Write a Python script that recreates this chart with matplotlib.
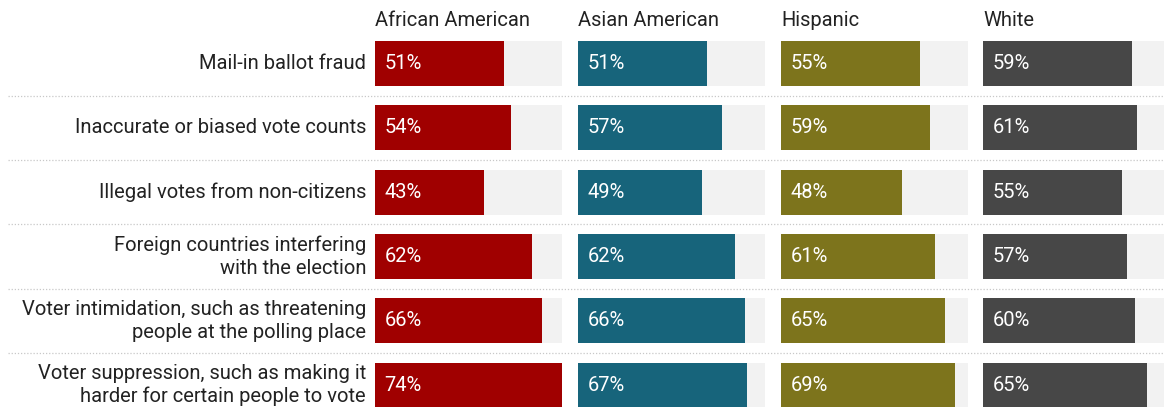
import matplotlib
matplotlib.use("Agg")
import matplotlib.pyplot as plt

plt.rcParams['font.family'] = ['Roboto', 'DejaVu Sans']

issues = [
    "Mail-in ballot fraud",
    "Inaccurate or biased vote counts",
    "Illegal votes from non-citizens",
    "Foreign countries interfering\nwith the election",
    "Voter intimidation, such as threatening\npeople at the polling place",
    "Voter suppression, such as making it\nharder for certain people to vote",
]
groups = ["African American", "Asian American", "Hispanic", "White"]
african_american = [51, 54, 43, 62, 66, 74]
asian_american = [51, 57, 49, 62, 66, 67]
hispanic = [55, 59, 48, 61, 65, 69]
white = [59, 61, 55, 57, 60, 65]
colors = ["#A00000", "#17647B", "#7D741C", "#474747"]

W, H = 1164, 407
fig = plt.figure(figsize=(W / 100, H / 100), dpi=100)

n = len(issues)
pitch = 64.3
top_px = 31.4
ax_h = (n - 0.15) * pitch
ylim = (n - 0.65, -0.5)
fs = 14.5

# background axes for labels and dotted separators
bg = fig.add_axes([8 / W, 1 - (top_px + ax_h) / H, (W - 8) / W, ax_h / H])
bg.set_xlim(0, 1)
bg.set_ylim(*ylim)
bg.axis("off")
for i in range(n - 1):
    bg.axhline(i + 0.5, color="#c8c8c8", lw=0.9, ls=(0, (1, 1.5)))

for i, lab in enumerate(issues):
    fig.text(366 / W, 1 - (top_px + (i + 0.5) * pitch) / H, lab, ha="right",
             va="center", fontsize=fs, color="#222222", linespacing=1.25)

values = [african_american, asian_american, hispanic, white]
lefts = [375, 578, 781, 983]
panel_w = 187
vmax = max(max(v) for v in values)

for g, left, vals, c in zip(groups, lefts, values, colors):
    ax = fig.add_axes([left / W, 1 - (top_px + ax_h) / H, panel_w / W, ax_h / H])
    ax.set_xlim(0, vmax)
    ax.set_ylim(*ylim)
    ax.axis("off")
    y = list(range(n))
    ax.barh(y, [vmax] * n, height=0.7, color="#F2F2F2")
    ax.barh(y, vals, height=0.7, color=c)
    for yi, v in zip(y, vals):
        ax.annotate(f"{v}%", (0, yi), xytext=(7, 0), textcoords="offset points",
                    ha="left", va="center", color="white", fontsize=fs)
    fig.text(left / W, 1 - 21 / H, g, ha="left", va="center", fontsize=fs,
             color="#222222")

fig.savefig("out.png", dpi=100)
